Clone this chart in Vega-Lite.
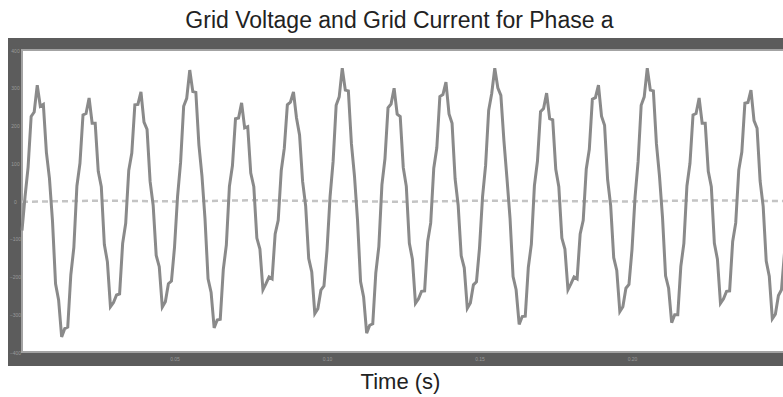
{
  "$schema": "https://vega.github.io/schema/vega-lite/v6.json",
  "width": 775,
  "height": 328,
  "autosize": "none",
  "padding": {"left": 8, "top": 38, "right": 0, "bottom": 31},
  "background": "white",
  "config": {
    "view": {"stroke": null, "fill": "#5c5c5c"},
    "font": "Liberation Sans"
  },
  "title": {
    "text": "Grid Voltage and Grid Current for Phase a",
    "fontSize": 23,
    "fontWeight": "normal",
    "color": "#222222",
    "font": "Liberation Sans",
    "baseline": "alphabetic",
    "offset": 11,
    "dx": 4,
    "dy": 24
  },
  "datasets": {
    "voltage": [
      {"t":0,"v":-78},{"t":0.001,"v":12},{"t":0.002,"v":90},{"t":0.003,"v":224},{"t":0.004,"v":236},{"t":0.005,"v":307},{"t":0.006,"v":251},{"t":0.007,"v":256},{"t":0.008,"v":129},{"t":0.009,"v":60},
      {"t":0.010,"v":-53},{"t":0.011,"v":-219},{"t":0.012,"v":-262},{"t":0.013,"v":-360},{"t":0.014,"v":-338},{"t":0.015,"v":-334},{"t":0.016,"v":-196},{"t":0.017,"v":-123},{"t":0.018,"v":40},{"t":0.019,"v":100},
      {"t":0.020,"v":228},{"t":0.021,"v":232},{"t":0.022,"v":273},{"t":0.023,"v":206},{"t":0.024,"v":206},{"t":0.025,"v":79},{"t":0.026,"v":38},{"t":0.027,"v":-115},{"t":0.028,"v":-161},{"t":0.029,"v":-280},
      {"t":0.030,"v":-269},{"t":0.031,"v":-249},{"t":0.032,"v":-246},{"t":0.033,"v":-112},{"t":0.034,"v":-59},{"t":0.035,"v":81},{"t":0.036,"v":127},{"t":0.037,"v":255},{"t":0.038,"v":256},{"t":0.039,"v":289},
      {"t":0.040,"v":209},{"t":0.041,"v":190},{"t":0.042,"v":52},{"t":0.043,"v":-11},{"t":0.044,"v":-144},{"t":0.045,"v":-174},{"t":0.046,"v":-281},{"t":0.047,"v":-267},{"t":0.048,"v":-219},{"t":0.049,"v":-212},
      {"t":0.050,"v":-123},{"t":0.051,"v":12},{"t":0.052,"v":103},{"t":0.053,"v":251},{"t":0.054,"v":272},{"t":0.055,"v":347},{"t":0.056,"v":290},{"t":0.057,"v":288},{"t":0.058,"v":149},{"t":0.059,"v":67},
      {"t":0.060,"v":-47},{"t":0.061,"v":-206},{"t":0.062,"v":-242},{"t":0.063,"v":-336},{"t":0.064,"v":-315},{"t":0.065,"v":-313},{"t":0.066,"v":-181},{"t":0.067,"v":-116},{"t":0.068,"v":39},{"t":0.069,"v":94},
      {"t":0.070,"v":218},{"t":0.071,"v":220},{"t":0.072,"v":260},{"t":0.073,"v":194},{"t":0.074,"v":197},{"t":0.075,"v":74},{"t":0.076,"v":38},{"t":0.077,"v":-98},{"t":0.078,"v":-127},{"t":0.079,"v":-235},
      {"t":0.080,"v":-219},{"t":0.081,"v":-201},{"t":0.082,"v":-206},{"t":0.083,"v":-87},{"t":0.084,"v":-51},{"t":0.085,"v":81},{"t":0.086,"v":140},{"t":0.087,"v":255},{"t":0.088,"v":262},{"t":0.089,"v":289},
      {"t":0.090,"v":220},{"t":0.091,"v":175},{"t":0.092,"v":52},{"t":0.093,"v":-13},{"t":0.094,"v":-152},{"t":0.095,"v":-188},{"t":0.096,"v":-298},{"t":0.097,"v":-285},{"t":0.098,"v":-236},{"t":0.099,"v":-225},
      {"t":0.100,"v":-130},{"t":0.101,"v":11},{"t":0.102,"v":105},{"t":0.103,"v":254},{"t":0.104,"v":276},{"t":0.105,"v":352},{"t":0.106,"v":294},{"t":0.107,"v":292},{"t":0.108,"v":152},{"t":0.109,"v":67},
      {"t":0.110,"v":-50},{"t":0.111,"v":-213},{"t":0.112,"v":-254},{"t":0.113,"v":-350},{"t":0.114,"v":-329},{"t":0.115,"v":-325},{"t":0.116,"v":-190},{"t":0.117,"v":-120},{"t":0.118,"v":43},{"t":0.119,"v":112},
      {"t":0.120,"v":247},{"t":0.121,"v":257},{"t":0.122,"v":299},{"t":0.123,"v":230},{"t":0.124,"v":224},{"t":0.125,"v":89},{"t":0.126,"v":39},{"t":0.127,"v":-112},{"t":0.128,"v":-154},{"t":0.129,"v":-271},
      {"t":0.130,"v":-259},{"t":0.131,"v":-239},{"t":0.132,"v":-238},{"t":0.133,"v":-107},{"t":0.134,"v":-58},{"t":0.135,"v":87},{"t":0.136,"v":141},{"t":0.137,"v":277},{"t":0.138,"v":282},{"t":0.139,"v":315},
      {"t":0.140,"v":231},{"t":0.141,"v":206},{"t":0.142,"v":59},{"t":0.143,"v":-11},{"t":0.144,"v":-145},{"t":0.145,"v":-177},{"t":0.146,"v":-284},{"t":0.147,"v":-270},{"t":0.148,"v":-222},{"t":0.149,"v":-214},
      {"t":0.150,"v":-124},{"t":0.151,"v":12},{"t":0.152,"v":95},{"t":0.153,"v":240},{"t":0.154,"v":285},{"t":0.155,"v":352},{"t":0.156,"v":300},{"t":0.157,"v":280},{"t":0.158,"v":160},{"t":0.159,"v":60},
      {"t":0.160,"v":-45},{"t":0.161,"v":-200},{"t":0.162,"v":-235},{"t":0.163,"v":-327},{"t":0.164,"v":-306},{"t":0.165,"v":-305},{"t":0.166,"v":-176},{"t":0.167,"v":-114},{"t":0.168,"v":41},{"t":0.169,"v":106},
      {"t":0.170,"v":237},{"t":0.171,"v":245},{"t":0.172,"v":286},{"t":0.173,"v":218},{"t":0.174,"v":215},{"t":0.175,"v":84},{"t":0.176,"v":38},{"t":0.177,"v":-98},{"t":0.178,"v":-127},{"t":0.179,"v":-235},
      {"t":0.180,"v":-219},{"t":0.181,"v":-201},{"t":0.182,"v":-206},{"t":0.183,"v":-87},{"t":0.184,"v":-51},{"t":0.185,"v":85},{"t":0.186,"v":137},{"t":0.187,"v":270},{"t":0.188,"v":274},{"t":0.189,"v":307},
      {"t":0.190,"v":225},{"t":0.191,"v":201},{"t":0.192,"v":57},{"t":0.193,"v":-12},{"t":0.194,"v":-150},{"t":0.195,"v":-184},{"t":0.196,"v":-293},{"t":0.197,"v":-280},{"t":0.198,"v":-231},{"t":0.199,"v":-221},
      {"t":0.200,"v":-128},{"t":0.201,"v":11},{"t":0.202,"v":105},{"t":0.203,"v":254},{"t":0.204,"v":276},{"t":0.205,"v":352},{"t":0.206,"v":294},{"t":0.207,"v":292},{"t":0.208,"v":152},{"t":0.209,"v":67},
      {"t":0.210,"v":-44},{"t":0.211,"v":-198},{"t":0.212,"v":-231},{"t":0.213,"v":-322},{"t":0.214,"v":-301},{"t":0.215,"v":-301},{"t":0.216,"v":-173},{"t":0.217,"v":-112},{"t":0.218,"v":40},{"t":0.219,"v":100},
      {"t":0.220,"v":228},{"t":0.221,"v":232},{"t":0.222,"v":273},{"t":0.223,"v":206},{"t":0.224,"v":206},{"t":0.225,"v":79},{"t":0.226,"v":38},{"t":0.227,"v":-112},{"t":0.228,"v":-154},{"t":0.229,"v":-271},
      {"t":0.230,"v":-259},{"t":0.231,"v":-239},{"t":0.232,"v":-238},{"t":0.233,"v":-107},{"t":0.234,"v":-58},{"t":0.235,"v":82},{"t":0.236,"v":130},{"t":0.237,"v":259},{"t":0.238,"v":261},{"t":0.239,"v":294},
      {"t":0.240,"v":213},{"t":0.241,"v":193},{"t":0.242,"v":53},{"t":0.243,"v":-14},{"t":0.244,"v":-159},{"t":0.245,"v":-199},{"t":0.246,"v":-312},{"t":0.247,"v":-300},{"t":0.248,"v":-250},{"t":0.249,"v":-235},
      {"t":0.250,"v":-136}
    ],
    "current": [
      {"t":0,"v":-2},{"t":0.025,"v":1},{"t":0.05,"v":-1},{"t":0.075,"v":2},{"t":0.1,"v":0},{"t":0.125,"v":-2},{"t":0.15,"v":1},{"t":0.175,"v":0},{"t":0.2,"v":-1},{"t":0.225,"v":2},{"t":0.25,"v":0}
    ]
  },
  "layer": [
    {
      "data": {"values": [{}]},
      "mark": {"type": "rect", "fill": "white", "stroke": "#a3a3a3", "strokeWidth": 2, "clip": true},
      "encoding": {
        "x": {
          "datum": 0, "type": "quantitative",
          "scale": {"domain": [-0.00459, 0.2495], "nice": false, "zero": false},
          "axis": {
            "title": "Time (s)", "values": [0.05, 0.1, 0.15, 0.2], "format": ".2f",
            "ticks": false, "tickSize": 0, "domain": false, "grid": false,
            "labelFontSize": 5, "labelColor": "#9a9a9a", "labelPadding": -10, "labelBaseline": "top",
            "labelFlush": false, "labelOverlap": false,
            "titleFontSize": 22, "titleFontWeight": "normal", "titleColor": "#222222", "titleFont": "Liberation Sans",
            "titleX": 392, "titleY": 22, "titleBaseline": "alphabetic", "titleAlign": "center", "titleAnchor": null
          }
        },
        "x2": {"datum": 0.3},
        "y": {
          "datum": -400, "type": "quantitative",
          "scale": {"domain": [-437, 432], "nice": false, "zero": false},
          "axis": {
            "title": null, "values": [-400, -300, -200, -100, 0, 100, 200, 300, 400],
            "ticks": false, "tickSize": 0, "domain": false, "grid": false,
            "labelFontSize": 5, "labelColor": "#9a9a9a", "labelPadding": -7, "labelAlign": "center", "labelBaseline": "middle",
            "labelFlush": false, "labelOverlap": false
          }
        },
        "y2": {"datum": 400}
      }
    },
    {
      "data": {"name": "current"},
      "mark": {"type": "line", "color": "#c4c4c4", "strokeWidth": 2.5, "strokeDash": [6, 4], "clip": true},
      "encoding": {
        "x": {"field": "t", "type": "quantitative"},
        "y": {"field": "v", "type": "quantitative"}
      }
    },
    {
      "data": {"name": "voltage"},
      "mark": {"type": "line", "color": "#8a8a8a", "strokeWidth": 3, "clip": true},
      "encoding": {
        "x": {"field": "t", "type": "quantitative"},
        "y": {"field": "v", "type": "quantitative"}
      }
    }
  ]
}
